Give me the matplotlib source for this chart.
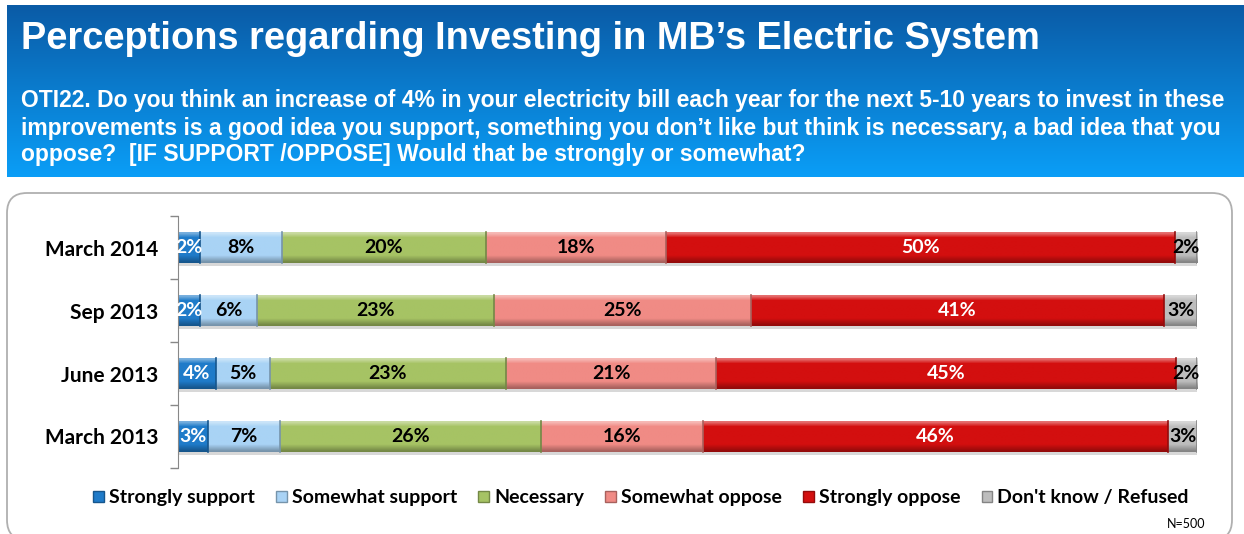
import numpy as np
import matplotlib
matplotlib.use('Agg')
import matplotlib.pyplot as plt
from matplotlib.patches import FancyBboxPatch, Patch
from matplotlib.colors import to_rgb

# survey waves, top to bottom
waves = ['March 2014', 'Sep 2013', 'June 2013', 'March 2013']
answers = ['Strongly support', 'Somewhat support', 'Necessary',
           'Somewhat oppose', 'Strongly oppose', "Don't know / Refused"]

# shares per answer, one value per wave
strongly_support = [2.2, 2.2, 3.7, 2.9]
somewhat_support = [8.0, 5.6, 5.3, 7.1]
necessary = [20.0, 23.2, 23.2, 25.6]
somewhat_oppose = [17.7, 25.2, 20.6, 15.9]
strongly_oppose = [49.9, 40.6, 45.1, 45.7]
dont_know = [2.2, 3.2, 2.1, 2.8]

series = [strongly_support, somewhat_support, necessary,
          somewhat_oppose, strongly_oppose, dont_know]
base_cols = ['#1f7bc9', '#a9d3f5', '#a6c364', '#f08b85', '#d30f0f', '#bdbdbd']
text_cols = ['white', 'black', 'black', 'black', 'white', 'black']

W, H = 1244, 534
fig = plt.figure(figsize=(W / 100, H / 100), dpi=100)


def fx(px):
    return px / W


def fy(py):
    return 1 - py / H


def shade(c, f):
    r = np.array(to_rgb(c))
    if f > 0:
        return r + (1 - r) * f
    return r * (1 + f)


# header band with vertical gradient
hax = fig.add_axes([fx(7), fy(177), 1 - fx(7), (177 - 5) / H])
top = np.array(to_rgb('#0b5ba6'))
bot = np.array(to_rgb('#0a9ef7'))
t = np.linspace(0, 1, 200)[:, None, None]
hax.imshow(top + (bot - top) * t, aspect='auto', extent=(0, 1, 1, 0))
hax.set_axis_off()

fig.text(fx(21), fy(39), 'Perceptions regarding Investing in MB\u2019s Electric System',
         color='white', fontsize=27.4, fontweight='bold', family='Liberation Sans',
         va='center', ha='left')
question = ['OTI22. Do you think an increase of 4% in your electricity bill each year for the next 5-10 years to invest in these',
            'improvements is a good idea you support, something you don\u2019t like but think is necessary, a bad idea that you',
            'oppose?  [IF SUPPORT /OPPOSE] Would that be strongly or somewhat?']
for line, yy in zip(question, [101, 128, 155]):
    fig.text(fx(21), fy(yy), line, color='white', fontsize=16.5, fontweight='bold',
             family='Liberation Sans', va='center', ha='left')

# rounded white panel
panel = FancyBboxPatch((7 / 100, (H - 540) / 100), (1232 - 7) / 100, (540 - 193) / 100,
                       boxstyle='round,pad=0,rounding_size=0.2',
                       transform=fig.dpi_scale_trans, facecolor='white',
                       edgecolor='#b0b0b0', linewidth=1.3, zorder=-1)
fig.add_artist(panel)

ax = fig.add_axes([fx(178), fy(468), (1197 - 178) / W, (468 - 216) / H])
y = np.arange(len(waves))
h = 0.48
left = np.zeros(len(waves))

for vals, col, tc, name in zip(series, base_cols, text_cols, answers):
    vals = np.array(vals)
    # soft shadow under each bar
    ax.barh(y + 0.05, vals, left=left, height=h, color='#d8d8d8', edgecolor='none', zorder=1)
    bars = ax.barh(y, vals, left=left, height=h, color=col, edgecolor='none',
                   label=name, zorder=2)
    grad = np.array([shade(col, 0.4), shade(col, 0.2)] + [shade(col, 0.0)] * 9 +
                    [shade(col, -0.1), shade(col, -0.2), shade(col, -0.3)])[:, None, :]
    for b in bars:
        x0, y0 = b.get_x(), b.get_y()
        im = ax.imshow(grad, aspect='auto', interpolation='bilinear',
                       extent=(x0, x0 + b.get_width(), y0 + h, y0), zorder=2)
        im.set_clip_path(b)
        # darker right edge for the bevelled look
        ax.plot([x0 + b.get_width()] * 2, [y0, y0 + h], color=shade(col, -0.3),
                lw=1.2, zorder=3)
    for yi, l0, v in zip(y, left, vals):
        ax.text(l0 + v / 2, yi, f'{v:.0f}%', ha='center', va='center', color=tc,
                fontsize=14, fontweight='bold', family='Lato', zorder=4)
    left = left + vals

ax.set_xlim(0, 100)
ax.set_ylim(len(waves) - 0.5, -0.5)
ax.set_xticks([])
ax.set_yticks(np.arange(len(waves) + 1) - 0.5)
ax.set_yticklabels([])
ax.set_yticks(y, minor=True)
ax.set_yticklabels(waves, minor=True, fontsize=15, fontweight='bold', family='Lato')
ax.tick_params(axis='y', which='major', length=6, color='#888888', width=1)
ax.tick_params(axis='y', which='minor', length=0, pad=14)
for s in ['top', 'right', 'bottom']:
    ax.spines[s].set_visible(False)
ax.spines['left'].set_color('#888888')
ax.patch.set_alpha(0)

handles = [Patch(facecolor=c, edgecolor=shade(c, -0.3), label=n)
           for c, n in zip(base_cols, answers)]
fig.legend(handles=handles, loc='center', bbox_to_anchor=(fx(641), fy(498)), ncol=6,
           frameon=False, prop={'family': 'Lato', 'weight': 'bold', 'size': 14},
           handlelength=0.55, handleheight=0.55, handletextpad=0.25, columnspacing=1.1)

fig.text(fx(1205), fy(524), 'N=500', fontsize=9, family='Lato', ha='right', va='center')

fig.savefig('out.png', dpi=100)
